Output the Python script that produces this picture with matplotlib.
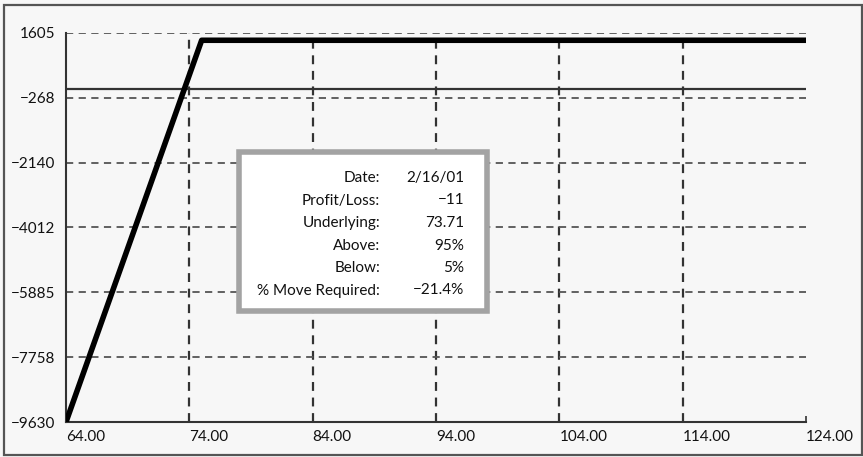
import matplotlib
matplotlib.use("Agg")
import matplotlib.pyplot as plt
from matplotlib.patches import Rectangle

# payoff curve (price -> profit/loss)
price = [64.0, 75.0, 124.0]
pnl = [-9630, 1395, 1395]

x_ticks = [64, 74, 84, 94, 104, 114, 124]
x_labels = ["64.00", "74.00", "84.00", "94.00", "104.00", "114.00", "124.00"]
y_ticks = [1605, -268, -2140, -4012, -5885, -7758, -9630]
y_labels = ["1605", "\u2212268", "\u22122140", "\u22124012", "\u22125885", "\u22127758", "\u22129630"]

info_keys = ["Date:", "Profit/Loss:", "Underlying:", "Above:", "Below:", "% Move Required:"]
info_vals = ["2/16/01", "\u221211", "73.71", "95%", "5%", "\u221221.4%"]

plt.rcParams['font.family'] = ['Lato', 'DejaVu Sans']
W, H = 863, 457
fig = plt.figure(figsize=(W / 100, H / 100), dpi=100)
fig.patch.set_facecolor('#f7f7f7')

def px(x, y):
    return x / W, 1 - y / H

# outer frame
fig.patches.append(Rectangle(px(4, 455), 858 / W, 450 / H, transform=fig.transFigure,
                             fill=False, edgecolor='#555555', linewidth=1.6))

ax = fig.add_axes([66 / W, 1 - 422 / H, 740 / W, 389 / H])
ax.set_facecolor('#f7f7f7')
ax.set_xlim(64, 124)
ax.set_ylim(-9630, 1605)

for s in ['top', 'right']:
    ax.spines[s].set_visible(False)
for s in ['left', 'bottom']:
    ax.spines[s].set_color('#333333')
    ax.spines[s].set_linewidth(1.5)

for xv in x_ticks[1:-1]:
    ax.axvline(xv, color='#333333', lw=1.6, ls=(0, (4, 3)), zorder=1)
for yv in y_ticks[:-1]:
    ax.axhline(yv, color='#555555', lw=1.3, ls=(0, (4, 3)), zorder=1)

ax.axhline(0, color='#333333', lw=1.6, zorder=2)
ax.plot(price, pnl, color='#000000', lw=4, solid_capstyle='butt', zorder=3)

ax.set_xticks(x_ticks)
ax.set_xticklabels(x_labels, ha='left')
ax.set_yticks(y_ticks)
ax.set_yticklabels(y_labels)
ax.tick_params(axis='x', direction='in', length=4, width=1.2, color='#333333',
               labelsize=11, labelcolor='#111111', pad=6)
ax.tick_params(axis='y', length=0, labelsize=11, labelcolor='#111111', pad=8)

# info box
fig.patches.append(Rectangle(px(239, 311), 248 / W, 159 / H, transform=fig.transFigure,
                             facecolor='#ffffff', edgecolor='#a3a3a3', linewidth=4, zorder=5))
for i, (k, v) in enumerate(zip(info_keys, info_vals)):
    yy = 178 + i * 22.5
    fig.text(*px(380, yy), k, ha='right', va='center', fontsize=11, color='#111111', zorder=6)
    fig.text(*px(464, yy), v, ha='right', va='center', fontsize=11, color='#111111', zorder=6)

fig.savefig("out.png", dpi=100, facecolor=fig.get_facecolor())
